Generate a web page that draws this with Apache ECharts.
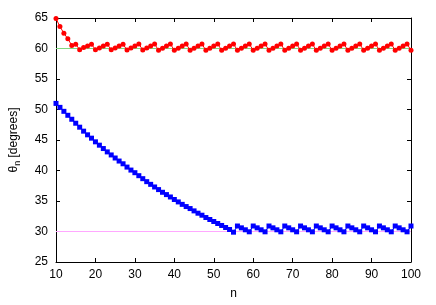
<!DOCTYPE html>
<html><head><meta charset="utf-8">
<script src="https://cdn.jsdelivr.net/npm/echarts@6/dist/echarts.min.js"></script>
<style>html,body{margin:0;padding:0;background:#fff}#c{width:436px;height:305px}</style>
</head><body><div id="c"></div>
<script>
var nValues = [10,11,12,13,14,15,16,17,18,19,20,21,22,23,24,25,26,27,28,29,30,31,32,33,34,35,36,37,38,39,40,41,42,43,44,45,46,47,48,49,50,51,52,53,54,55,56,57,58,59,60,61,62,63,64,65,66,67,68,69,70,71,72,73,74,75,76,77,78,79,80,81,82,83,84,85,86,87,88,89,90,91,92,93,94,95,96,97,98,99,100];
var redTheta = [64.9,63.6,62.5,61.6,60.5,60.7,
 59.8,60.15,60.4,60.7, 59.8,60.1,60.4,60.7, 59.8,60.1,60.4,60.7, 59.75,60.1,60.4,60.75,
 59.75,60.1,60.4,60.75, 59.7,60.05,60.4,60.75, 59.7,60.05,60.4,60.75, 59.7,60.05,60.4,60.75,
 59.7,60.05,60.4,60.75, 59.7,60.05,60.4,60.75, 59.7,60.05,60.4,60.75, 59.7,60.05,60.4,60.75,
 59.7,60.05,60.4,60.75, 59.7,60.05,60.4,60.75, 59.7,60.05,60.4,60.75, 59.7,60.05,60.4,60.75,
 59.7,60.05,60.4,60.75, 59.7,60.05,60.4,60.75, 59.7,60.05,60.4,60.75, 59.7,60.05,60.4,60.75,
 59.7,60.05,60.4,60.75, 59.7];
var blueTheta = [51.0,50.35,49.7,49.05,48.4,47.75,47.1,46.45,45.85,45.3,44.7,44.15,43.6,43.05,42.55,42.05,
 41.55,41.1,40.56,40.07,39.64,39.15,38.66,38.17,37.73,37.3,36.87,36.43,36.05,35.66,35.25,34.85,34.45,34.09,
 33.76,33.38,33.0,32.67,32.29,31.97,31.64,31.31,30.99,30.66,30.33,29.89,
 30.9,30.6,30.28,29.95, 30.9,30.6,30.28,29.95, 30.9,30.6,30.28,29.95, 30.9,30.6,30.28,29.95,
 30.9,30.6,30.28,29.95, 30.9,30.6,30.28,29.95, 30.9,30.6,30.28,29.95, 30.9,30.6,30.28,29.95,
 30.9,30.6,30.28,29.95, 30.9,30.6,30.28,29.95, 30.9,30.6,30.28,29.95, 30.9];
var refX = [10, 100];
var refGreen = [60, 60];
var refPink = [30, 30];
var xTicks = [10,20,30,40,50,60,70,80,90,100];
var yTicks = [25,30,35,40,45,50,55,60,65];

function pairs(xs, ys){ return xs.map(function(x,i){return [x, ys[i]];}); }

var font = 'Liberation Sans, Arial, sans-serif';
var axisCommon = {
  axisLine:{show:true,onZero:false,lineStyle:{color:'#000',width:1}},
  axisTick:{show:true,inside:true,length:4,lineStyle:{color:'#000'}},
  splitLine:{show:false}
};
var chart = echarts.init(document.getElementById('c'), null, {renderer:'canvas'});
chart.setOption({
  animation:false,
  backgroundColor:'#fff',
  grid:{left:56,right:25,top:18,bottom:42},
  xAxis:[
    Object.assign({type:'value',min:xTicks[0],max:xTicks[xTicks.length-1],interval:10,position:'bottom',
      name:'n',nameLocation:'middle',nameGap:26,nameTextStyle:{fontFamily:font,fontSize:12,color:'#000'},
      axisLabel:{fontFamily:font,fontSize:12,color:'#000',margin:7}}, axisCommon),
    Object.assign({type:'value',min:xTicks[0],max:xTicks[xTicks.length-1],interval:10,position:'top',
      axisLabel:{show:false}}, axisCommon)
  ],
  yAxis:[
    Object.assign({type:'value',min:yTicks[0],max:yTicks[yTicks.length-1],interval:5,position:'left',
      name:'{a|θ}{s|n}{a| [degrees]}',nameLocation:'middle',nameGap:34,nameRotate:90,
      nameTextStyle:{rich:{a:{fontFamily:font,fontSize:12,color:'#000'},s:{fontFamily:font,fontSize:9,color:'#000',padding:[7,0,0,0]}}},
      axisLabel:{fontFamily:font,fontSize:12,color:'#000',margin:8}}, axisCommon),
    Object.assign({type:'value',min:yTicks[0],max:yTicks[yTicks.length-1],interval:5,position:'right',
      axisLabel:{show:false}}, axisCommon)
  ],
  series:[
    {type:'line',data:pairs(refX,refGreen),symbol:'none',lineStyle:{color:'#7fd87f',width:1},z:1,silent:true},
    {type:'line',data:pairs(refX,refPink),symbol:'none',lineStyle:{color:'#ffa8ff',width:1},z:1,silent:true},
    {type:'line',data:pairs(nValues,redTheta),symbol:'circle',symbolSize:5,showSymbol:true,
      itemStyle:{color:'#ff0000'},lineStyle:{color:'#ff0000',width:1},z:3},
    {type:'line',data:pairs(nValues,blueTheta),symbol:'rect',symbolSize:5,showSymbol:true,
      itemStyle:{color:'#0000ff'},lineStyle:{color:'#0000ff',width:1},z:3}
  ]
});
</script></body></html>
